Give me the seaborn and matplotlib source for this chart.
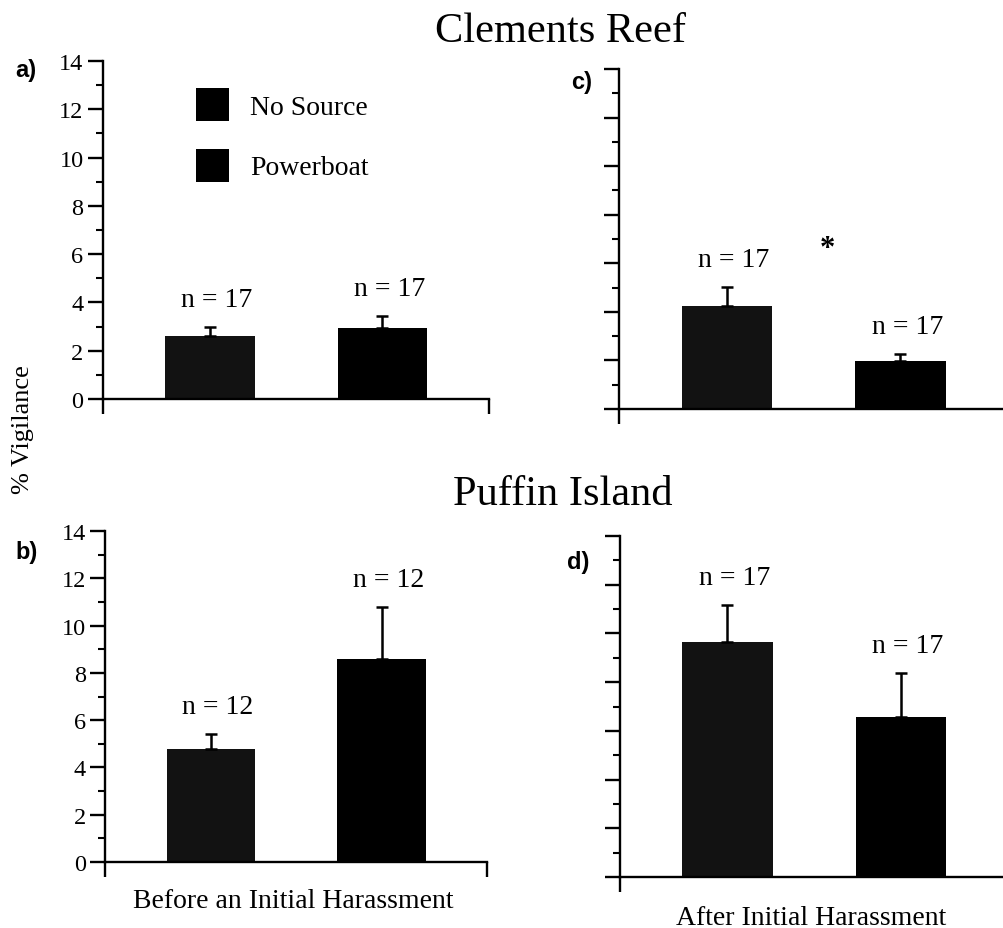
import matplotlib
matplotlib.use("Agg")
import matplotlib.pyplot as plt
from matplotlib.patches import Patch
import seaborn as sns
import pandas as pd

# ---- data ----
treatments = ["No Source", "Powerboat"]
bar_colors = ["#121212", "#000000"]

mean_a = [2.61, 2.94]   # Clements Reef, before
se_a = [0.37, 0.50]
n_a = [17, 17]

mean_b = [4.78, 8.59]   # Puffin Island, before
se_b = [0.63, 2.20]
n_b = [12, 12]

mean_c = [4.24, 1.98]   # Clements Reef, after
se_c = [0.78, 0.28]
n_c = [17, 17]

mean_d = [9.65, 6.57]   # Puffin Island, after
se_d = [1.52, 1.80]
n_d = [17, 17]

yticks = [0, 2, 4, 6, 8, 10, 12, 14]
site_titles = ["Clements Reef", "Puffin Island"]
period_labels = ["Before an Initial Harassment", "After Initial Harassment"]
ylabel = "% Vigilance"

# ---- style ----
sns.set_style("ticks")
plt.rcParams["font.family"] = ["Liberation Serif", "DejaVu Serif"]
for k in ("text.color", "axes.labelcolor", "xtick.color", "ytick.color", "axes.edgecolor"):
    plt.rcParams[k] = "black"

W, H = 1004, 929
fig = plt.figure(figsize=(W / 100, H / 100), dpi=100)

def px(l, b, w, h):
    return [l / W, b / H, w / W, h / H]

axes = {
    "a": fig.add_axes(px(103, H - 400, 386.4, 338)),
    "b": fig.add_axes(px(105.3, H - 863, 382, 331)),
    "c": fig.add_axes(px(619.4, H - 410, 388.6, 340)),
    "d": fig.add_axes(px(619.9, H - 878, 388.6, 341)),
}
panel_data = {
    "a": (mean_a, se_a, n_a),
    "b": (mean_b, se_b, n_b),
    "c": (mean_c, se_c, n_c),
    "d": (mean_d, se_d, n_d),
}

XLIM = (-0.62, 1.62)
for key, ax in axes.items():
    means, ses, ns = panel_data[key]
    df = pd.DataFrame({"treatment": treatments, "mean": means, "se": ses, "n": ns})
    sns.barplot(data=df, x="treatment", y="mean", hue="treatment",
                palette=bar_colors, width=0.52, errorbar=None, legend=False,
                ax=ax, order=treatments, hue_order=treatments,
                edgecolor="none", linewidth=0)
    xs = list(range(len(df)))
    ax.errorbar(xs, df["mean"], yerr=[[0] * len(df), df["se"]], fmt="none",
                ecolor="black", elinewidth=1.8, capsize=4, capthick=1.8, zorder=1)
    for x, m, s, n in zip(xs, df["mean"], df["se"], df["n"]):
        ax.annotate(f"n = {n}", xy=(x, m + s), xytext=(5, 20),
                    textcoords="offset points", ha="center", va="center",
                    fontsize=20)
    ax.set_xlim(*XLIM)
    ax.set_ylim(0, 14)
    ax.set_xticks(list(XLIM))
    ax.set_xticklabels([])
    ax.set_yticks(yticks)
    ax.set_yticks([v + 1 for v in yticks[:-1]], minor=True)
    ax.set_xlabel("")
    ax.set_ylabel("")
    sns.despine(ax=ax)
    for sp in ("left", "bottom"):
        ax.spines[sp].set_linewidth(1.7)
    ax.tick_params(axis="both", which="major", length=11, width=1.7,
                   direction="out", labelsize=17.5, pad=3)
    ax.tick_params(axis="y", which="minor", length=5, width=1.5, direction="out")
    if key in ("c", "d"):
        ax.set_yticklabels([])

# significance mark in panel c
axes["c"].text(0.58, 6.6, "*", ha="center", va="center", fontsize=22, fontweight="bold")

# legend in panel a
handles = [Patch(facecolor="black", edgecolor="none", label=t) for t in treatments]
axes["a"].legend(handles=handles, loc="upper left",
                 bbox_to_anchor=(196 / W, 1 - 89 / H), bbox_transform=fig.transFigure,
                 frameon=False, fontsize=20, handlelength=1.19, handleheight=1.45,
                 handletextpad=0.75, labelspacing=1.0, borderpad=0, borderaxespad=0)

# panel letters
sans = ["Liberation Sans", "DejaVu Sans"]
for lab, (x, y) in {"a)": (26, 71), "b)": (27, 553), "c)": (582, 83), "d)": (578, 563)}.items():
    fig.text(x / W, 1 - y / H, lab, ha="center", va="center", fontsize=17,
             fontweight="bold", family=sans)

# titles and labels
fig.text(561 / W, 1 - 42 / H, site_titles[0], ha="center", va="baseline", fontsize=30.5)
fig.text(563 / W, 1 - 505 / H, site_titles[1], ha="center", va="baseline", fontsize=30.5)
fig.text(23 / W, 1 - 430 / H, ylabel, ha="center", va="center", rotation=90, fontsize=19)
fig.text(293 / W, 1 - 908 / H, period_labels[0], ha="center", va="baseline", fontsize=20)
fig.text(811 / W, 1 - 925 / H, period_labels[1], ha="center", va="baseline", fontsize=20)

fig.savefig("out.png", dpi=100)
